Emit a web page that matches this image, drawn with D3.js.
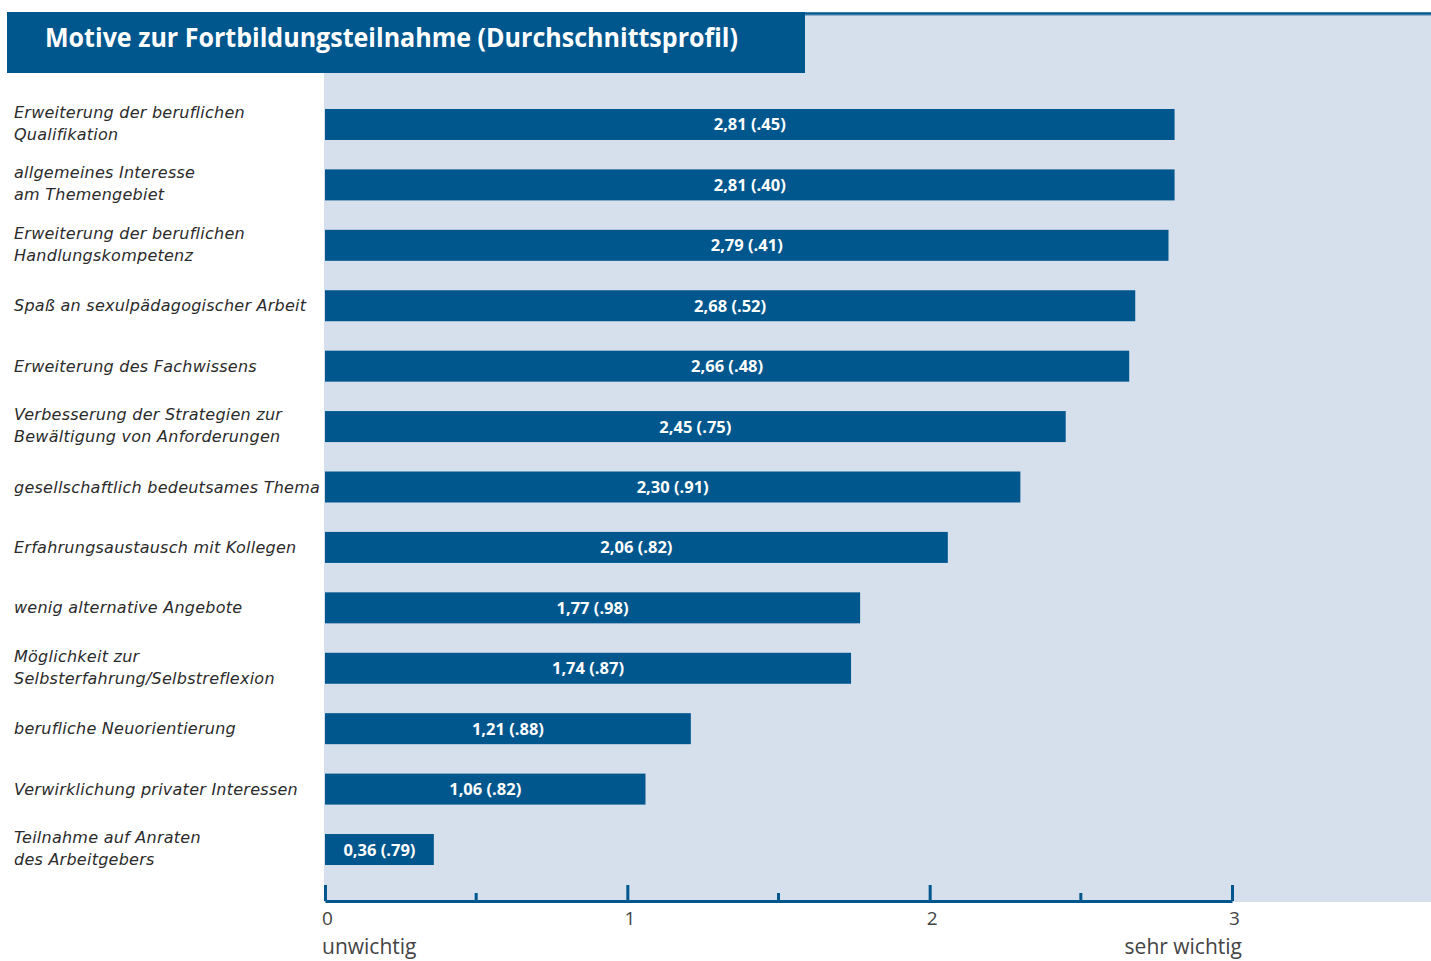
<!DOCTYPE html>
<html>
<head>
<meta charset="utf-8">
<script src="https://cdn.jsdelivr.net/npm/d3@7"></script>
<style>
  body { margin: 0; background: #fff; }
  svg { display: block; }
</style>
</head>
<body>
<div id="chart"></div>
<script>
const title = "Motive zur Fortbildungsteilnahme (Durchschnittsprofil)"

const categories = [
  "Erweiterung der beruflichen\nQualifikation",
  "allgemeines Interesse\nam Themengebiet",
  "Erweiterung der beruflichen\nHandlungskompetenz",
  "Spaß an sexulpädagogischer Arbeit",
  "Erweiterung des Fachwissens",
  "Verbesserung der Strategien zur\nBewältigung von Anforderungen",
  "gesellschaftlich bedeutsames Thema",
  "Erfahrungsaustausch mit Kollegen",
  "wenig alternative Angebote",
  "Möglichkeit zur\nSelbsterfahrung/Selbstreflexion",
  "berufliche Neuorientierung",
  "Verwirklichung privater Interessen",
  "Teilnahme auf Anraten\ndes Arbeitgebers"
]
const means = [2.81, 2.81, 2.79, 2.68, 2.66, 2.45, 2.30, 2.06, 1.77, 1.74, 1.21, 1.06, 0.36]
const sds = [".45", ".40", ".41", ".52", ".48", ".75", ".91", ".82", ".98", ".87", ".88", ".82", ".79"]

const majorTicks = [0, 1, 2, 3]
const minorTicks = [0.5, 1.5, 2.5]
const axisEnds = ["unwichtig", "sehr wichtig"]

const blue = "#00578e"
const panel = "#d6e0ec"

const width = 1431
const height = 961

const svg = d3.select("#chart").append("svg")
  .attr("width", width)
  .attr("height", height)

// light panel behind bars
svg.append("rect")
  .attr("x", 324).attr("y", 14)
  .attr("width", width - 324).attr("height", 902 - 14)
  .attr("fill", panel)

// top rule
svg.append("line")
  .attr("x1", 7).attr("x2", width)
  .attr("y1", 13.5).attr("y2", 13.5)
  .attr("stroke", blue).attr("stroke-width", 2.5)
svg.append("line")
  .attr("x1", 805).attr("x2", width)
  .attr("y1", 15.5).attr("y2", 15.5)
  .attr("stroke", "#8fb0cf").attr("stroke-width", 1)

// title box
svg.append("rect")
  .attr("x", 7).attr("y", 12)
  .attr("width", 798).attr("height", 61)
  .attr("fill", blue)
svg.append("text")
  .attr("x", 45).attr("y", 47)
  .attr("fill", "#fff")
  .attr("font-family", "'Open Sans', sans-serif")
  .attr("font-weight", 700)
  .attr("font-size", 27)
  .attr("textLength", 693)
  .attr("lengthAdjust", "spacingAndGlyphs")
  .text(title)

const data = categories.map((c, i) => ({cat: c, mean: means[i], sd: sds[i]}))

const xScale = d3.scaleLinear()
  .domain([0, 3])
  .range([325, 1232])

const yScale = d3.scaleBand()
  .domain(categories)
  .range([94, 880])
  .paddingInner(0.487)
  .paddingOuter(0.248)

// bars
svg.append("g")
  .selectAll("rect")
  .data(data)
  .enter()
  .append("rect")
    .attr("x", xScale(0))
    .attr("y", d => yScale(d.cat))
    .attr("width", d => xScale(d.mean) - xScale(0))
    .attr("height", yScale.bandwidth())
    .attr("fill", blue)

// bar value labels
svg.append("g")
  .selectAll("text")
  .data(data)
  .enter()
  .append("text")
    .attr("x", d => (xScale(0) + xScale(d.mean)) / 2)
    .attr("y", d => yScale(d.cat) + yScale.bandwidth() / 2 + 6)
    .attr("text-anchor", "middle")
    .attr("fill", "#fff")
    .attr("font-family", "'Open Sans', sans-serif")
    .attr("font-weight", 700)
    .attr("font-size", 16.5)
    .text(d => d.mean.toFixed(2).replace(".", ",") + " (" + d.sd + ")")

// category labels
const labels = svg.append("g")
  .selectAll("text")
  .data(data)
  .enter()
  .append("text")
    .attr("x", 14)
    .attr("fill", "#2b2b2b")
    .attr("font-family", "'DejaVu Sans', sans-serif")
    .attr("font-style", "italic")
    .attr("font-size", 16)
    .attr("letter-spacing", 0.25)

labels.each(function(d) {
  const lines = d.cat.split("\n")
  const cy = yScale(d.cat) + yScale.bandwidth() / 2
  const start = lines.length === 1 ? cy + 5.5 : cy - 6.5
  d3.select(this).selectAll("tspan")
    .data(lines)
    .enter()
    .append("tspan")
      .attr("x", 14)
      .attr("y", (l, j) => start + j * 22)
      .text(l => l)
})

// axis
const axisY = 901
const axis = d3.axisBottom(xScale)
  .tickValues(majorTicks)
  .tickSizeInner(-16)
  .tickSizeOuter(0)
  .tickPadding(11)
  .tickFormat(d3.format("d"))

const gAxis = svg.append("g")
  .attr("transform", `translate(0,${axisY})`)
  .call(axis)

gAxis.select(".domain")
  .attr("stroke", blue)
  .attr("stroke-width", 3)
gAxis.selectAll(".tick line")
  .attr("stroke", blue)
  .attr("stroke-width", 3)
gAxis.selectAll(".tick text")
  .attr("fill", "#444")
  .attr("font-family", "'Open Sans', sans-serif")
  .attr("font-size", 19)
  .attr("dx", 2)

svg.append("g")
  .attr("transform", `translate(0,${axisY})`)
  .selectAll("line")
  .data(minorTicks)
  .enter()
  .append("line")
    .attr("x1", d => xScale(d)).attr("x2", d => xScale(d))
    .attr("y1", 0).attr("y2", -8)
    .attr("stroke", blue)
    .attr("stroke-width", 3)

svg.append("text")
  .attr("x", 322).attr("y", 954)
  .attr("fill", "#444")
  .attr("font-family", "'Open Sans', sans-serif")
  .attr("font-size", 21)
  .text(axisEnds[0])

svg.append("text")
  .attr("x", 1242).attr("y", 954)
  .attr("text-anchor", "end")
  .attr("fill", "#444")
  .attr("font-family", "'Open Sans', sans-serif")
  .attr("font-size", 21)
  .text(axisEnds[1])
</script>
</body>
</html>
